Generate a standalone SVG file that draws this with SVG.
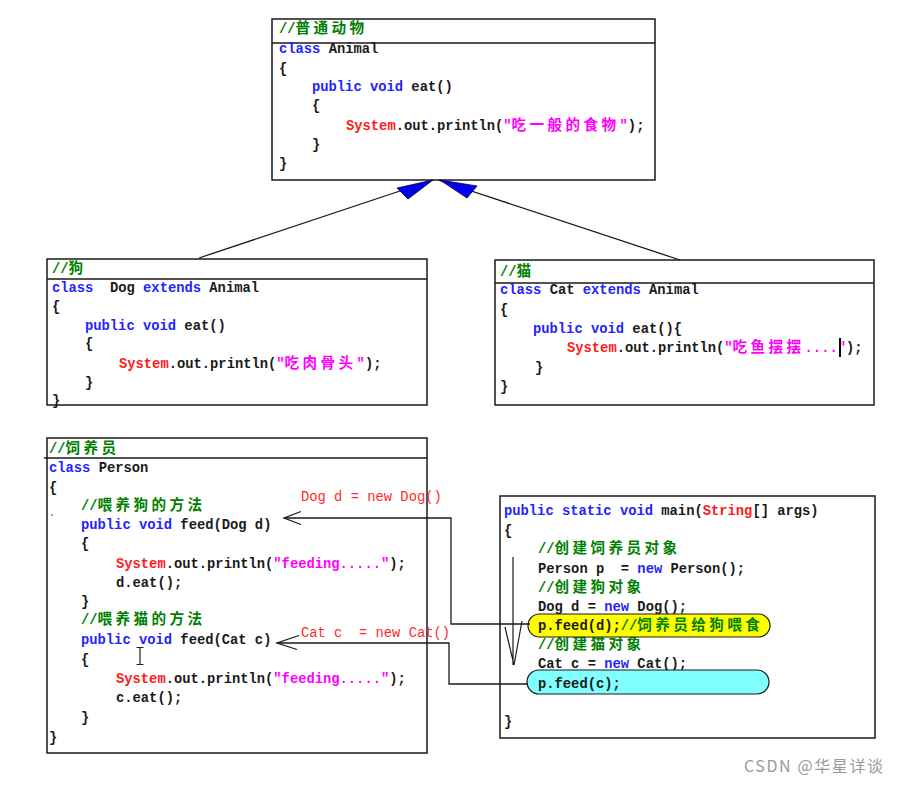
<svg xmlns="http://www.w3.org/2000/svg" width="898" height="785" viewBox="0 0 898 785">
<style>
text { font-family: "Liberation Mono", "Noto Sans CJK SC", monospace; font-size: 13.8px; font-weight: bold; fill: #1a1a1a; }
.k { fill: #2424ff; }
.r { fill: #ff1a1a; }
.s { fill: #ff00ff; }
.g { fill: #008000; }
.z { font-family: "Noto Sans CJK SC", sans-serif; font-size: 14.6px; letter-spacing: 3.4px; }
.box { fill: #ffffff; stroke: #1a1a1a; stroke-width: 1.5; }
.hl { stroke: #1a1a1a; stroke-width: 1.5; }
.edge { fill: none; stroke: #1a1a1a; stroke-width: 1.3; }
.lab { font-weight: normal; fill: #ff2a2a; }
.tri { fill: #0000ee; stroke: #000044; stroke-width: 0.8; }
.wm { font-family: "Noto Sans CJK SC", "Noto Sans", sans-serif; font-weight: normal; font-size: 16px; fill: #9a9a9a; }
</style>
<rect width="898" height="785" fill="#ffffff"/>

<g id="animal">
<rect class="box" x="272" y="19" width="383" height="161"/>
<line class="hl" x1="272" y1="43" x2="655" y2="43"/>
<text x="279" y="33" class="g">//<tspan class="z">普通动物</tspan></text>
<text x="279" y="53" xml:space="preserve"><tspan class="k">class</tspan> Animal</text>
<text x="279" y="72.5">{</text>
<text x="312" y="91" xml:space="preserve"><tspan class="k">public void</tspan> eat()</text>
<text x="312" y="110">{</text>
<text x="346" y="130"><tspan class="r">System</tspan>.out.println(<tspan class="s">"<tspan class="z">吃一般的食物</tspan>"</tspan>);</text>
<text x="312" y="149">}</text>
<text x="279" y="168">}</text>
</g>

<g id="dog">
<rect class="box" x="47" y="259" width="380" height="146"/>
<line class="hl" x1="47" y1="279" x2="427" y2="279"/>
<text x="52" y="273" class="g">//<tspan class="z">狗</tspan></text>
<text x="52" y="291.5" xml:space="preserve"><tspan class="k">class</tspan>  Dog <tspan class="k">extends</tspan> Animal</text>
<text x="52" y="311">{</text>
<text x="85" y="329.5" xml:space="preserve"><tspan class="k">public void</tspan> eat()</text>
<text x="85" y="348">{</text>
<text x="119" y="367.5"><tspan class="r">System</tspan>.out.println(<tspan class="s">"<tspan class="z">吃肉骨头</tspan>"</tspan>);</text>
<text x="85" y="387">}</text>
<text x="52" y="404.5">}</text>
</g>

<g id="cat">
<rect class="box" x="495" y="260" width="379" height="145"/>
<line class="hl" x1="495" y1="283" x2="874" y2="283"/>
<text x="500" y="276" class="g">//<tspan class="z">猫</tspan></text>
<text x="500" y="293.5" xml:space="preserve"><tspan class="k">class</tspan> Cat <tspan class="k">extends</tspan> Animal</text>
<text x="500" y="314">{</text>
<text x="533" y="332.5" xml:space="preserve"><tspan class="k">public void</tspan> eat(){</text>
<text x="567" y="352"><tspan class="r">System</tspan>.out.println(<tspan class="s">"<tspan class="z">吃鱼摆摆</tspan>...."</tspan>);</text>
<line x1="840" y1="338" x2="840" y2="357" stroke="#000" stroke-width="2"/>
<text x="535" y="372">}</text>
<text x="500" y="391">}</text>
</g>

<g id="person">
<rect class="box" x="47" y="438" width="380" height="315"/>
<line class="hl" x1="44" y1="458" x2="427" y2="458"/>
<text x="49" y="453" class="g">//<tspan class="z">饲养员</tspan></text>
<text x="49" y="471.5" xml:space="preserve"><tspan class="k">class</tspan> Person</text>
<text x="49" y="491.5">{</text>
<text x="81" y="509.5" class="g">//<tspan class="z">喂养狗的方法</tspan></text>
<circle cx="52" cy="515" r="0.8" fill="#333"/>
<text x="81" y="528.5" xml:space="preserve"><tspan class="k">public void</tspan> feed(Dog d)</text>
<text x="81" y="547.5">{</text>
<text x="116" y="567.5"><tspan class="r">System</tspan>.out.println(<tspan class="s">"feeding....."</tspan>);</text>
<text x="116" y="586.5">d.eat();</text>
<text x="81" y="605.5">}</text>
<text x="81" y="623.5" class="g">//<tspan class="z">喂养猫的方法</tspan></text>
<text x="81" y="643.5" xml:space="preserve"><tspan class="k">public void</tspan> feed(Cat c)</text>
<text x="81" y="663.5">{</text>
<path d="M136.5 647.5 H143.5 M140 647.5 V664.5 M136.5 664.5 H143.5" fill="none" stroke="#222" stroke-width="1.2"/>
<text x="116" y="682.5"><tspan class="r">System</tspan>.out.println(<tspan class="s">"feeding....."</tspan>);</text>
<text x="116" y="701.5">c.eat();</text>
<text x="81" y="721.5">}</text>
<text x="49" y="741.5">}</text>
</g>

<g id="main">
<rect class="box" x="500" y="496" width="375" height="242"/>
<text x="504" y="514.5" xml:space="preserve"><tspan class="k">public static void</tspan> main(<tspan class="r">String</tspan>[] args)</text>
<text x="504" y="534.5">{</text>
<text x="538" y="552.5" class="g">//<tspan class="z">创建饲养员对象</tspan></text>
<text x="538" y="572.5" xml:space="preserve">Person p  = <tspan class="k">new</tspan> Person();</text>
<text x="538" y="591.5" class="g">//<tspan class="z">创建狗对象</tspan></text>
<text x="538" y="610.5" xml:space="preserve">Dog d = <tspan class="k">new</tspan> Dog();</text>
<text x="538" y="648.5" class="g">//<tspan class="z">创建猫对象</tspan></text>
<text x="538" y="667.5" xml:space="preserve">Cat c = <tspan class="k">new</tspan> Cat();</text>
<rect x="528" y="614" width="242" height="23" rx="11.5" fill="#ffff00" stroke="#1a1a1a" stroke-width="1.2"/>
<text x="538" y="629.5">p.feed(d);<tspan class="g">//<tspan class="z">饲养员给狗喂食</tspan></tspan></text>
<rect x="527" y="670" width="242" height="24" rx="12" fill="#80ffff" stroke="#1a1a1a" stroke-width="1.2"/>
<text x="538" y="687.5">p.feed(c);</text>
<text x="504" y="725.5">}</text>
<path d="M513 557 V665 M505 627 L514 665 L522 621" fill="none" stroke="#1a1a1a" stroke-width="1.2"/>
</g>

<g id="connectors">
<line class="edge" x1="199" y1="258" x2="433" y2="180"/>
<line class="edge" x1="680" y1="260" x2="438" y2="180"/>
<polygon class="tri" points="397,188 408,199 433,180"/>
<polygon class="tri" points="440,180 477,186 467,198"/>
<polyline class="edge" points="530,624 451,624 451,518 284,518"/>
<polyline class="edge" points="301,511.5 284,518 301,524.5"/>
<polyline class="edge" points="528,684 449,684 449,643 277,643"/>
<polyline class="edge" points="299,635.5 277,643 297,649.5"/>
<text class="lab" x="301" y="500.5" xml:space="preserve">Dog d = new Dog()</text>
<text class="lab" x="301" y="636.5" xml:space="preserve">Cat c  = new Cat()</text>
</g>

<text class="wm" x="744" y="772" textLength="139" lengthAdjust="spacing">CSDN @华星详谈</text>
</svg>
